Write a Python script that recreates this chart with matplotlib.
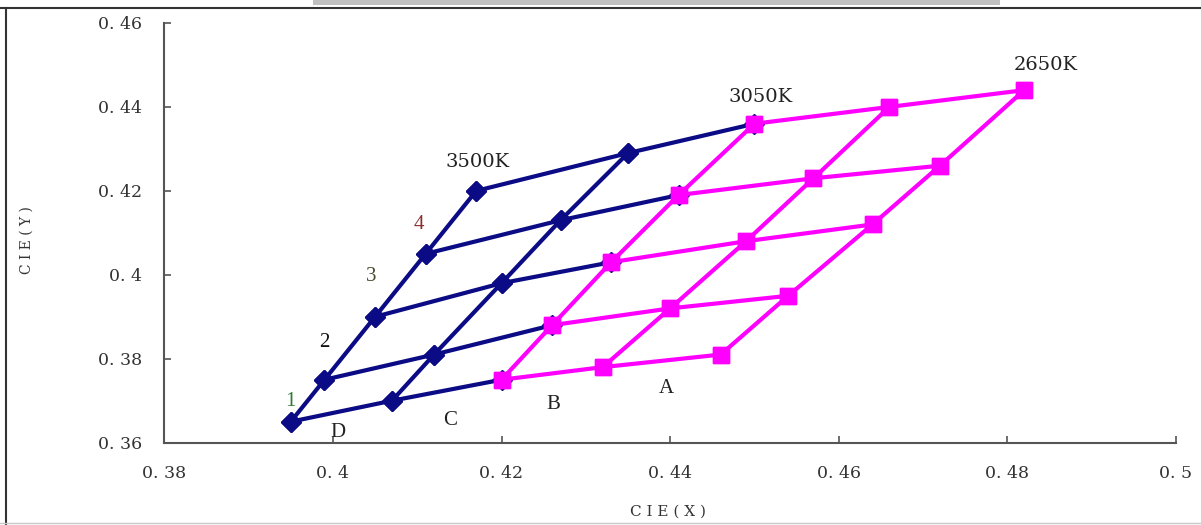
import matplotlib
matplotlib.use("Agg")
import matplotlib.pyplot as plt
from matplotlib.lines import Line2D
from matplotlib.patches import Rectangle

# Grid points: columns (3500K .. 2650K), rows 1..5 (bottom to top)
col1_x = [0.395, 0.399, 0.405, 0.411, 0.417]
col1_y = [0.365, 0.375, 0.390, 0.405, 0.420]
col2_x = [0.407, 0.412, 0.420, 0.427, 0.435]
col2_y = [0.370, 0.381, 0.398, 0.413, 0.429]
col3_x = [0.420, 0.426, 0.433, 0.441, 0.450]
col3_y = [0.375, 0.388, 0.403, 0.419, 0.436]
col4_x = [0.432, 0.440, 0.449, 0.457, 0.466]
col4_y = [0.378, 0.392, 0.408, 0.423, 0.440]
col5_x = [0.446, 0.454, 0.464, 0.472, 0.482]
col5_y = [0.381, 0.395, 0.412, 0.426, 0.444]

x_ticks = [0.38, 0.40, 0.42, 0.44, 0.46, 0.48, 0.50]
x_tick_labels = ["0. 38", "0. 4", "0. 42", "0. 44", "0. 46", "0. 48", "0. 5"]
y_ticks = [0.36, 0.38, 0.40, 0.42, 0.44, 0.46]
y_tick_labels = ["0. 36", "0. 38", "0. 4", "0. 42", "0. 44", "0. 46"]

row_labels = ["1", "2", "3", "4"]
row_label_pos = [(0.395, 0.3697), (0.399, 0.3838), (0.4045, 0.3995), (0.4102, 0.4120)]
row_label_colors = ["#2f7a35", "#111111", "#4a4a30", "#8a2f2f"]
col_labels = ["D", "C", "B", "A"]
col_label_pos = [(0.4006, 0.3625), (0.4139, 0.3652), (0.4261, 0.3692), (0.4395, 0.3728)]
cct_labels = ["3500K", "3050K", "2650K"]
cct_label_pos = [(0.4172, 0.4269), (0.4507, 0.4424), (0.4846, 0.4500)]

NAVY = "#0b0b85"
MAG = "#ff00ff"

fig = plt.figure(figsize=(12.01, 5.25), dpi=100)
ax = fig.add_axes([0.1368, 0.1568, 0.8424, 0.7994])

blue_cols = [(col1_x, col1_y), (col2_x, col2_y)]
mag_cols = [(col3_x, col3_y), (col4_x, col4_y), (col5_x, col5_y)]

lw = 3.0
# blue rows (col1 -> col3)
for i in range(5):
    ax.plot([col1_x[i], col2_x[i], col3_x[i]], [col1_y[i], col2_y[i], col3_y[i]],
            color=NAVY, lw=lw, marker="D", ms=10, mfc=NAVY, mec=NAVY, zorder=3)
for cx, cy in blue_cols:
    ax.plot(cx, cy, color=NAVY, lw=lw, marker="D", ms=10, mfc=NAVY, mec=NAVY, zorder=3)
# magenta rows (col3 -> col5)
for i in range(5):
    ax.plot([col3_x[i], col4_x[i], col5_x[i]], [col3_y[i], col4_y[i], col5_y[i]],
            color=MAG, lw=lw, marker="s", ms=11.5, mfc=MAG, mec=MAG, zorder=4)
for cx, cy in mag_cols:
    ax.plot(cx, cy, color=MAG, lw=lw, marker="s", ms=11.5, mfc=MAG, mec=MAG, zorder=4)

serif = ["Liberation Serif", "DejaVu Serif"]
wide = ["DejaVu Serif"]
for t, (x, y), c in zip(row_labels, row_label_pos, row_label_colors):
    ax.text(x, y, t, ha="center", va="center", fontsize=15, color=c, family=serif, zorder=5)
for t, (x, y) in zip(col_labels, col_label_pos):
    ax.text(x, y, t, ha="center", va="center", fontsize=15, color="#222222", family=serif, zorder=5)
for t, (x, y) in zip(cct_labels, cct_label_pos):
    ax.text(x, y, t, ha="center", va="center", fontsize=14, color="#222222", family=wide, zorder=5)

ax.set_xlim(0.38, 0.50)
ax.set_ylim(0.36, 0.46)
ax.set_xticks(x_ticks)
ax.set_xticklabels(x_tick_labels, family=wide, fontsize=12.5, color="#333333")
ax.set_yticks(y_ticks)
ax.set_yticklabels(y_tick_labels, family=wide, fontsize=12.5, color="#333333")
ax.tick_params(axis="both", direction="in", length=5, width=1.2, color="#555555")
ax.tick_params(axis="x", pad=16)
ax.tick_params(axis="y", pad=16)
for s in ["top", "right"]:
    ax.spines[s].set_visible(False)
for s in ["left", "bottom"]:
    ax.spines[s].set_color("#555555")
    ax.spines[s].set_linewidth(1.5)

fig.text(668 / 1201, 1 - 512 / 525, "C I E ( X )", ha="center", va="center",
         fontsize=11, color="#333333", family=wide)
fig.text(27 / 1201, 1 - 240 / 525, "C I E ( Y )", ha="center", va="center",
         fontsize=10, color="#333333", family=wide, rotation=90)

# frame decorations
fig.add_artist(Rectangle((313 / 1201, 1 - 5 / 525), (1000 - 313) / 1201, 5 / 525,
                         transform=fig.transFigure, facecolor="#c0c0c0", edgecolor="none"))
fig.add_artist(Line2D([0, 1], [1 - 8 / 525, 1 - 8 / 525], transform=fig.transFigure,
                      color="#333333", lw=1.5))
fig.add_artist(Line2D([6 / 1201, 6 / 1201], [0, 1 - 8 / 525], transform=fig.transFigure,
                      color="#333333", lw=1.5))
fig.add_artist(Line2D([0, 1], [2 / 525, 2 / 525], transform=fig.transFigure,
                      color="#c8c8c8", lw=1.0))

fig.savefig("out.png", dpi=100)
